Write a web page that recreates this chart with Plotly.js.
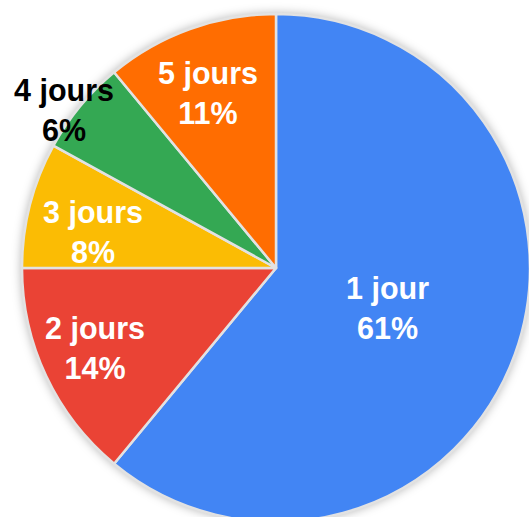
<!DOCTYPE html>
<html>
<head>
<meta charset="utf-8">
<script src="https://cdn.plot.ly/plotly-3.0.1.min.js"></script>
<style>
  html, body { margin: 0; padding: 0; background: #ffffff; overflow: hidden; width: 529px; height: 517px; }
  #plot { position: absolute; left: 0px; top: 0px; width: 530px; height: 522px; }
</style>
</head>
<body>
<div id="plot"></div>
<script>
// Data
const labels = ["1 jour", "2 jours", "3 jours", "4 jours", "5 jours"];
const values = [61, 14, 8, 6, 11];
const colors = ["#4285F4", "#EA4335", "#FBBC04", "#34A853", "#FF6D01"];
const textColors = ["#ffffff", "#ffffff", "#ffffff", "#000000", "#ffffff"];
// label placement styles: distance from centre (fraction of radius) and pixel nudges
const labelRadius = [0.47, 0.77, 0.73, 1.04, 0.75];
const labelXShift = [-1, -4, -3, -8, -3];
const labelYShift = [0, 3, -10, -10, -4];

// figure geometry (pixels)
const W = 530, H = 522;
const pieLeft = 22, pieTop = 14, pieSize = 508;
const cx = pieLeft + pieSize / 2, cy = pieTop + pieSize / 2, R = pieSize / 2;

const total = values.reduce((a, b) => a + b, 0);
let cum = 0;
const annotations = values.map((v, i) => {
  const mid = (cum + v / 2) / total;
  cum += v;
  const ang = mid * 2 * Math.PI;
  const r = labelRadius[i] * R;
  const px = cx + r * Math.sin(ang);
  const py = cy - r * Math.cos(ang);
  const pct = Math.round(v / total * 100);
  return {
    x: px / W, y: 1 - py / H, xref: "paper", yref: "paper",
    xanchor: "center", yanchor: "middle", showarrow: false,
    xshift: labelXShift[i], yshift: labelYShift[i],
    text: labels[i] + "<br>" + pct + "%",
    font: { family: "Liberation Sans, Arial, sans-serif", size: 30.5, color: textColors[i], weight: "bold" },
    align: "center"
  };
});

const trace = {
  type: "pie",
  labels: labels,
  values: values,
  sort: false,
  direction: "clockwise",
  rotation: 0,
  marker: { colors: colors, line: { color: "#e2e2e2", width: 2.5 } },
  textinfo: "none",
  hoverinfo: "skip",
  showlegend: false,
  domain: { x: [pieLeft / W, (pieLeft + pieSize) / W], y: [1 - (pieTop + pieSize) / H, 1 - pieTop / H] }
};

const layout = {
  width: W, height: H,
  margin: { l: 0, r: 0, t: 0, b: 0, pad: 0 },
  paper_bgcolor: "rgba(0,0,0,0)",
  plot_bgcolor: "rgba(0,0,0,0)",
  showlegend: false,
  annotations: annotations
};

Plotly.newPlot("plot", [trace], layout, { staticPlot: true, displayModeBar: false }).then(gd => {
  const svgs = gd.querySelectorAll(".main-svg");
  if (svgs.length) {
    svgs[0].style.filter = "drop-shadow(0px 0px 5px rgba(0,0,0,0.28))";
  }
});
</script>
</body>
</html>
